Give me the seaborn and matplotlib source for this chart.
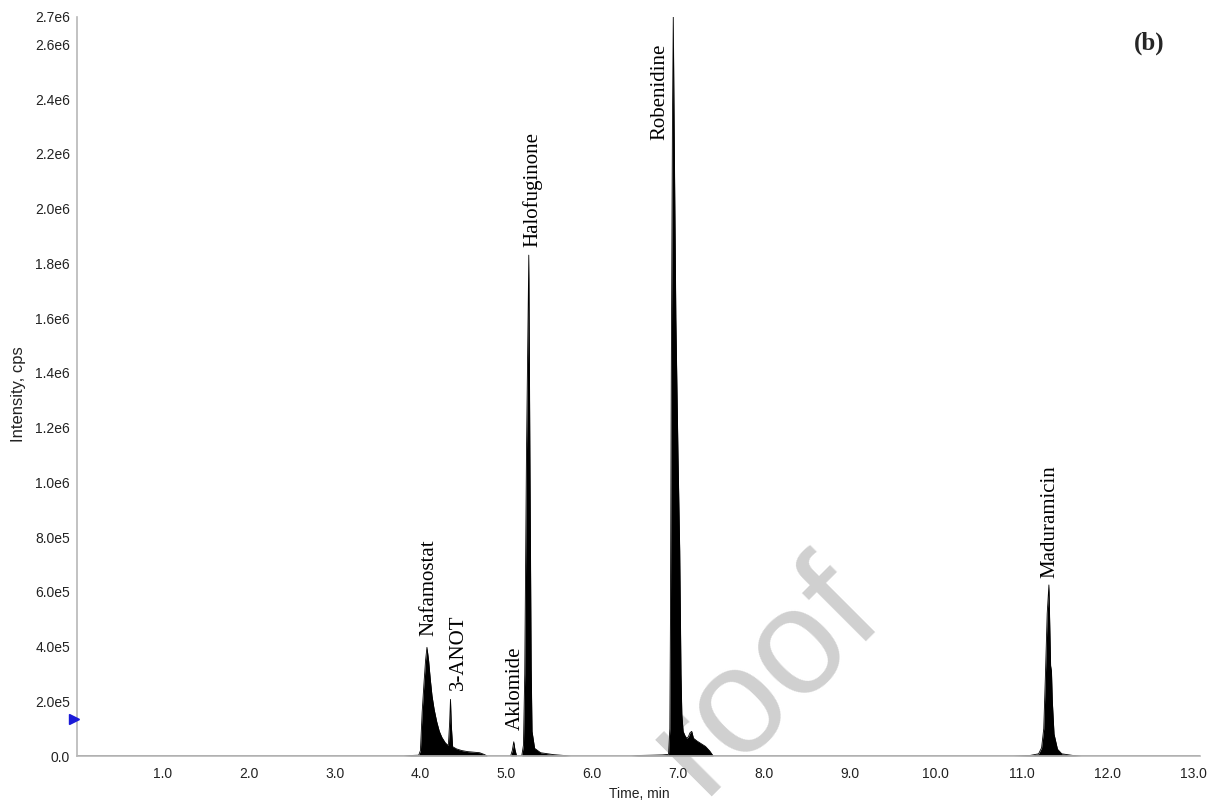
import pandas as pd
import matplotlib.pyplot as plt
import seaborn as sns

# chromatogram trace (time in min, intensity in cps)
time_min = [0.0, 3.80, 3.90, 3.98, 4.00, 4.02, 4.04, 4.06, 4.076, 4.095, 4.115, 4.135,
            4.16, 4.19, 4.22, 4.25, 4.29, 4.325, 4.34, 4.35, 4.36, 4.375, 4.42, 4.48,
            4.55, 4.62, 4.69, 4.74, 4.78, 5.05, 5.07, 5.087, 5.10, 5.12, 5.18, 5.20,
            5.215, 5.235, 5.262, 5.275, 5.29, 5.30, 5.33, 5.40, 5.55, 5.75, 6.45, 6.55,
            6.70, 6.82, 6.89, 6.905, 6.912, 6.922, 6.935, 6.945, 6.955, 6.975, 7.00,
            7.02, 7.035, 7.045, 7.06, 7.08, 7.10, 7.12, 7.14, 7.16, 7.18, 7.22, 7.27,
            7.32, 7.37, 7.41, 10.90, 11.10, 11.20, 11.235, 11.26, 11.28, 11.30, 11.32,
            11.33, 11.34, 11.35, 11.36, 11.38, 11.42, 11.47, 11.60, 11.70, 13.08]
intensity_cps = [0, 0, 2e3, 3e3, 2e4, 1.6e5, 2.6e5, 3.5e5, 3.97e5, 3.5e5, 2.8e5, 2.2e5,
                 1.7e5, 1.25e5, 9e4, 6.8e4, 4.8e4, 3.8e4, 1.2e5, 2.07e5, 1.1e5, 3.4e4, 2.6e4, 2e4,
                 1.6e4, 1.4e4, 1.2e4, 6e3, 0, 0, 2e4, 5.2e4, 2.5e4, 0, 0, 4e4,
                 3e5, 1.1e6, 1.83e6, 1.1e6, 3.2e5, 9e4, 2.8e4, 1.2e4, 5e3, 0, 0, 2e3,
                 3e3, 4e3, 6e3, 1e5, 5e5, 1.4e6, 2.3e6, 2.7e6, 2.3e6, 1.6e6, 1.1e6,
                 7.5e5, 3e5, 1.5e5, 9e4, 7.5e4, 6.5e4, 7e4, 8.5e4, 9e4, 6.5e4, 5.5e4, 4.5e4,
                 3.5e4, 1.8e4, 0, 0, 2e3, 8e3, 3e4, 1e5, 3e5, 5.2e5, 6.25e5,
                 4.8e5, 3.3e5, 3.1e5, 2e5, 8e4, 2.5e4, 8e3, 2e3, 0, 0]

peak_names = ['Nafamostat', '3-ANOT', 'Aklomide', 'Halofuginone', 'Robenidine', 'Maduramicin']
label_time = [4.10, 4.44, 5.105, 5.31, 6.785, 11.33]
label_base = [4.4e5, 2.4e5, 9.5e4, 1.86e6, 2.25e6, 6.5e5]

x_ticks = [1.0, 2.0, 3.0, 4.0, 5.0, 6.0, 7.0, 8.0, 9.0, 10.0, 11.0, 12.0, 13.0]
x_tick_labels = ['1.0', '2.0', '3.0', '4.0', '5.0', '6.0', '7.0', '8.0', '9.0',
                 '10.0', '11.0', '12.0', '13.0']
x_minor = [0.5, 1.5, 2.5, 3.5, 4.5, 5.5, 6.5, 7.5, 8.5, 9.5, 10.5, 11.5, 12.5]
y_ticks = [0, 2e5, 4e5, 6e5, 8e5, 1e6, 1.2e6, 1.4e6, 1.6e6, 1.8e6, 2.0e6, 2.2e6,
           2.4e6, 2.6e6, 2.7e6]
y_tick_labels = ['0.0', '2.0e5', '4.0e5', '6.0e5', '8.0e5', '1.0e6', '1.2e6', '1.4e6',
                 '1.6e6', '1.8e6', '2.0e6', '2.2e6', '2.4e6', '2.6e6', '2.7e6']
y_minor = [1e5, 3e5, 5e5, 7e5, 9e5, 1.1e6, 1.3e6, 1.5e6, 1.7e6, 1.9e6, 2.1e6, 2.3e6, 2.5e6]
marker_level = 1.35e5

sns.set_theme(style='white')
plt.rcParams['font.family'] = ['Liberation Sans', 'DejaVu Sans']

df = pd.DataFrame({'time': time_min, 'intensity': intensity_cps})

fig = plt.figure(figsize=(12.15, 8.01), dpi=100)
ax = fig.add_axes([77 / 1215, 45 / 801, 1123 / 1215, 739 / 801])
ax.set_facecolor('none')

ax.fill_between(df['time'], df['intensity'], color='black', lw=0)
sns.lineplot(data=df, x='time', y='intensity', color='black', linewidth=0.6,
             estimator=None, sort=False, ax=ax)

ax.set_xlim(0, 13.08)
ax.set_ylim(0, 2.7e6)

ax.set_xticks(x_ticks)
ax.set_xticklabels(x_tick_labels)
ax.set_xticks(x_minor, minor=True)
ax.set_yticks(y_ticks)
ax.set_yticklabels(y_tick_labels)
ax.set_yticks(y_minor, minor=True)
ax.tick_params(axis='both', which='both', direction='out', length=3, width=0.8,
               color='#b0b0b0', labelsize=10, labelcolor='#222222', pad=2)
ax.tick_params(axis='x', which='both', pad=5)

sns.despine(ax=ax)
for s in ['left', 'bottom']:
    ax.spines[s].set_color('#b8b8b8')
    ax.spines[s].set_linewidth(1.2)

ax.set_xlabel('Time, min', fontsize=10, color='#222222')
ax.set_ylabel('Intensity, cps', fontsize=12, color='#222222')
ax.xaxis.set_label_coords(0.501, -0.042)
ax.yaxis.set_label_coords(-0.045, 0.49)

# peak names
for name, t, base in zip(peak_names, label_time, label_base):
    ax.text(t, base, name, rotation=90, ha='center', va='bottom',
            fontsize=15, family='Liberation Serif', color='black')

ax.text(0.955, 0.965, '(b)', transform=ax.transAxes, ha='center', va='center',
        fontsize=18, fontweight='bold', family='Liberation Serif')

# blue marker on the y axis
ax.plot([-0.03], [marker_level], marker='>', color='#1a1ad8', markersize=7,
        clip_on=False, zorder=5)

# watermark, behind the axes content
fig.text(766 / 1215, 1 - 677 / 801, 'roof', rotation=45, ha='center', va='center',
         fontsize=108, color='#d0d0d0', zorder=-1)

fig.savefig('out.png', dpi=100)
